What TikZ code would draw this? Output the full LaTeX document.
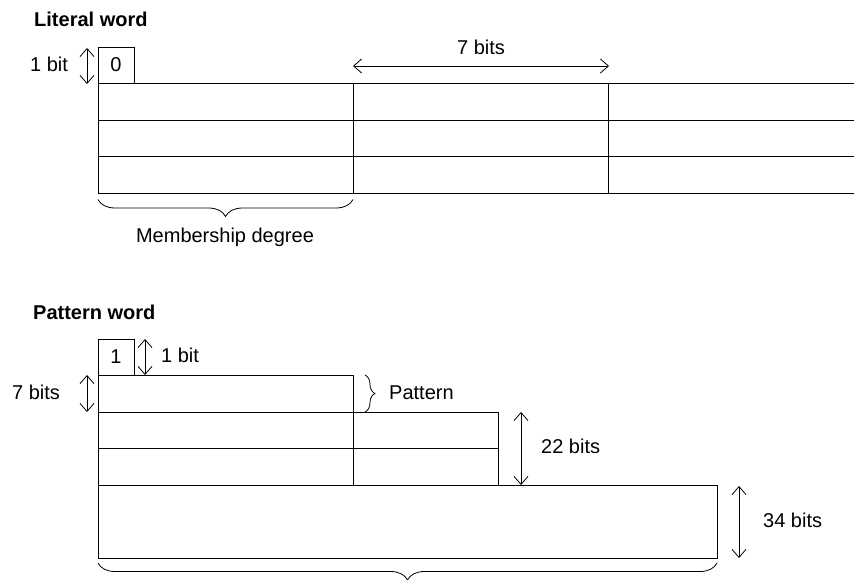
\documentclass[tikz,border=0pt]{standalone}
\usepackage{fontspec}
\setmainfont{Liberation Sans}
\usetikzlibrary{arrows.meta,decorations.pathreplacing}
\newcommand{\lab}{\fontsize{20}{24}\selectfont}
\newcommand{\ttl}{\fontsize{20}{24}\selectfont\bfseries}
\begin{document}
\begin{tikzpicture}[x=1pt,y=-1pt,
  cell/.style={draw, line width=1pt, inner sep=0pt, outer sep=0pt, anchor=north west},
  lbl/.style={font=\lab, inner sep=0pt},
  title/.style={font=\ttl, inner sep=0pt, anchor=base west},
  dim/.style={line width=0.8pt, {Straight Barb[length=8pt,width=14pt]}-{Straight Barb[length=8pt,width=14pt]}},
  brc/.style={line width=0.8pt, decorate}]
\useasboundingbox (0,0) rectangle (854,580);
% ---------------- Literal word
\node[title] (tlit) at (34,27) {Literal word};
\node[cell, minimum width=36pt, minimum height=36pt] (b0) at (98,48) {};
\node[lbl, anchor=base] (t0) at (116,72) {0};
\foreach \r/\y in {1/84,2/120.5,3/157}{
  \node[cell, minimum width=255pt, minimum height=36.5pt] (la\r) at (98,\y) {};
  \node[cell, minimum width=255pt, minimum height=36.5pt] (lb\r) at (353,\y) {};
  \coordinate (lc\r) at (854,\y);
}
\coordinate (lc4) at (854,193.5);
\draw[line width=1pt] (lb1.north east) -- (lc1) (lb2.north east) -- (lc2)
  (lb3.north east) -- (lc3) (lb3.south east) -- (lc4);
% 1 bit
\coordinate (d1a) at (87,48); \coordinate (d1b) at (87,84);
\draw[dim] (d1a) -- (d1b);
\node[lbl, anchor=base west] (t1bit) at (30,72) {1 bit};
% 7 bits
\coordinate (d7a) at (353,66); \coordinate (d7b) at (609,66);
\draw[dim] (d7a) -- (d7b);
\node[lbl, anchor=base] (t7bit) at (481,55) {7 bits};
% membership brace
\draw[brc, decoration={brace, mirror, amplitude=17pt}] (la3.south west) ++(0,6) coordinate (mb1) -- (mb1 -| la3.south east) coordinate (mb2);
\node[lbl, anchor=base] (tmem) at (225,243) {Membership degree};
% ---------------- Pattern word
\node[title] (tpat) at (33,319) {Pattern word};
\node[cell, minimum width=36pt, minimum height=36pt] (b1) at (98,339) {};
\node[lbl, anchor=base] (t1) at (116,363) {1};
\coordinate (p1a) at (145,339); \coordinate (p1b) at (145,375);
\draw[dim] (p1a) -- (p1b);
\node[lbl, anchor=base west] (tp1bit) at (161,362) {1 bit};
\node[cell, minimum width=255pt, minimum height=37pt] (pr1) at (98,375) {};
\coordinate (p7a) at (87,375); \coordinate (p7b) at (87,412);
\draw[dim] (p7a) -- (p7b);
\node[lbl, anchor=base west] (tp7bit) at (12,399) {7 bits};
\draw[brc, decoration={brace, amplitude=10pt}] (365,375) coordinate (pb1) -- (365,412) coordinate (pb2);
\node[lbl, anchor=base west] (tpatt) at (389,399) {Pattern};
\node[cell, minimum width=255pt, minimum height=36.5pt] (pa2) at (98,412) {};
\node[cell, minimum width=145pt, minimum height=36.5pt] (pb2c) at (353,412) {};
\node[cell, minimum width=255pt, minimum height=36.5pt] (pa3) at (98,448.5) {};
\node[cell, minimum width=145pt, minimum height=36.5pt] (pb3c) at (353,448.5) {};
\coordinate (p22a) at (521,412); \coordinate (p22b) at (521,485);
\draw[dim] (p22a) -- (p22b);
\node[lbl, anchor=base west] (t22) at (541,453) {22 bits};
\node[cell, minimum width=619pt, minimum height=73pt] (pbig) at (98,485) {};
\coordinate (p34a) at (739,486); \coordinate (p34b) at (739,558);
\draw[dim] (p34a) -- (p34b);
\node[lbl, anchor=base west] (t34) at (763,527) {34 bits};
\draw[brc, decoration={brace, mirror, amplitude=17pt}] (pbig.south west) ++(0,5) coordinate (bb1) -- (bb1 -| pbig.south east) coordinate (bb2);
\end{tikzpicture}
\end{document}
